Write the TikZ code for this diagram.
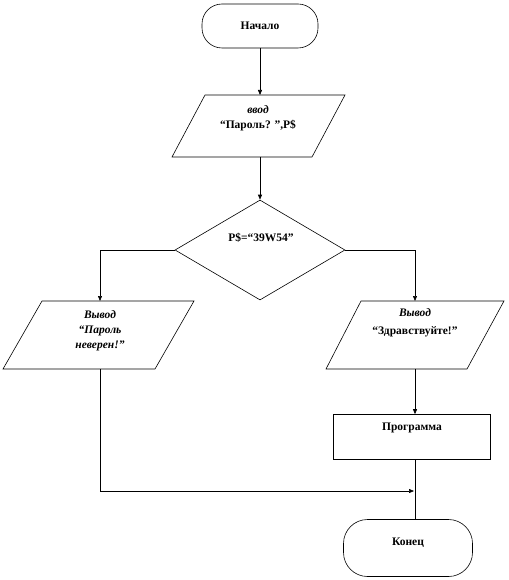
\documentclass[tikz,border=0pt]{standalone}
\usepackage{fontspec}
\setmainfont{Liberation Serif}
\usetikzlibrary{arrows.meta,shapes.geometric}
\begin{document}
\begin{tikzpicture}[x=1pt,y=-1pt,
  every node/.style={font=\fontsize{11.5}{14}\selectfont\bfseries, align=center},
  term/.style={draw, rounded corners=20pt, inner sep=0pt},
  box/.style={draw, line width=0.6pt},
  conn/.style={draw, line width=0.6pt},
  arr/.style={conn, -{Triangle[length=5pt,width=4pt]}},
  txt/.style={inner sep=0pt}]
\useasboundingbox (0,0) rectangle (508,580);
% start
\node[term, line width=0.6pt, minimum width=116pt, minimum height=44pt] (start) at (260,26) {Начало};
% input parallelogram
\draw[box] (205,95) -- (345,95) -- (312,157) -- (172,157) -- cycle;
\coordinate (inT) at (260,95);
\coordinate (inB) at (260,157);
\node[txt] (intx) at (258,118) {\textit{ввод}\\[1pt]“Пароль? ”,P\$};
% decision
\node[draw, diamond, line width=0.6pt, minimum width=170pt, minimum height=100pt, inner sep=0pt] (dec) at (260,250) {};
\node[txt] (dectx) at (261,238) {P\$=“39W54”};
\coordinate (decL) at (100,250);
\coordinate (decR) at (415,250);
% left output
\draw[box] (42,301) -- (194,301) -- (155,369) -- (3,369) -- cycle;
\coordinate (loT) at (100,301);
\coordinate (loB) at (100,369);
\node[txt] (lotx) at (100,331) {\textit{Вывод}\\[1pt]\textit{“Пароль}\\[1pt]\textit{неверен!”}};
% right output
\draw[box] (361,301) -- (504,301) -- (467,369) -- (326,369) -- cycle;
\coordinate (roT) at (415,301);
\coordinate (roB) at (415,369);
\node[txt] (rotx) at (415,323) {\textit{Вывод}\\[4pt]“Здравствуйте!”};
% program
\node[box, minimum width=157pt, minimum height=45pt, inner sep=0pt] (prog) at (412,437) {};
\node[txt] (progtx) at (412,428) {Программа};
% end
\node[term, line width=0.6pt, rounded corners=24pt, minimum width=129pt, minimum height=57pt] (end) at (408,548) {};
\node[txt] (endtx) at (408,543) {Конец};
\coordinate (join) at (415,491);
\coordinate (joinL) at (100,491);
% connectors
\draw[arr] (start.south) -- (inT);
\draw[arr] (inB) -- (dec.north);
\draw[arr] (dec.west) -- (decL) -- (loT);
\draw[arr] (dec.east) -- (decR) -- (roT);
\draw[arr] (roB) -- (prog.north -| roB);
\draw[conn] (prog.south -| roB) -- (end.north -| roB);
\draw[arr] (loB) -- (joinL) -- ([xshift=-1pt]join);
\end{tikzpicture}
\end{document}
